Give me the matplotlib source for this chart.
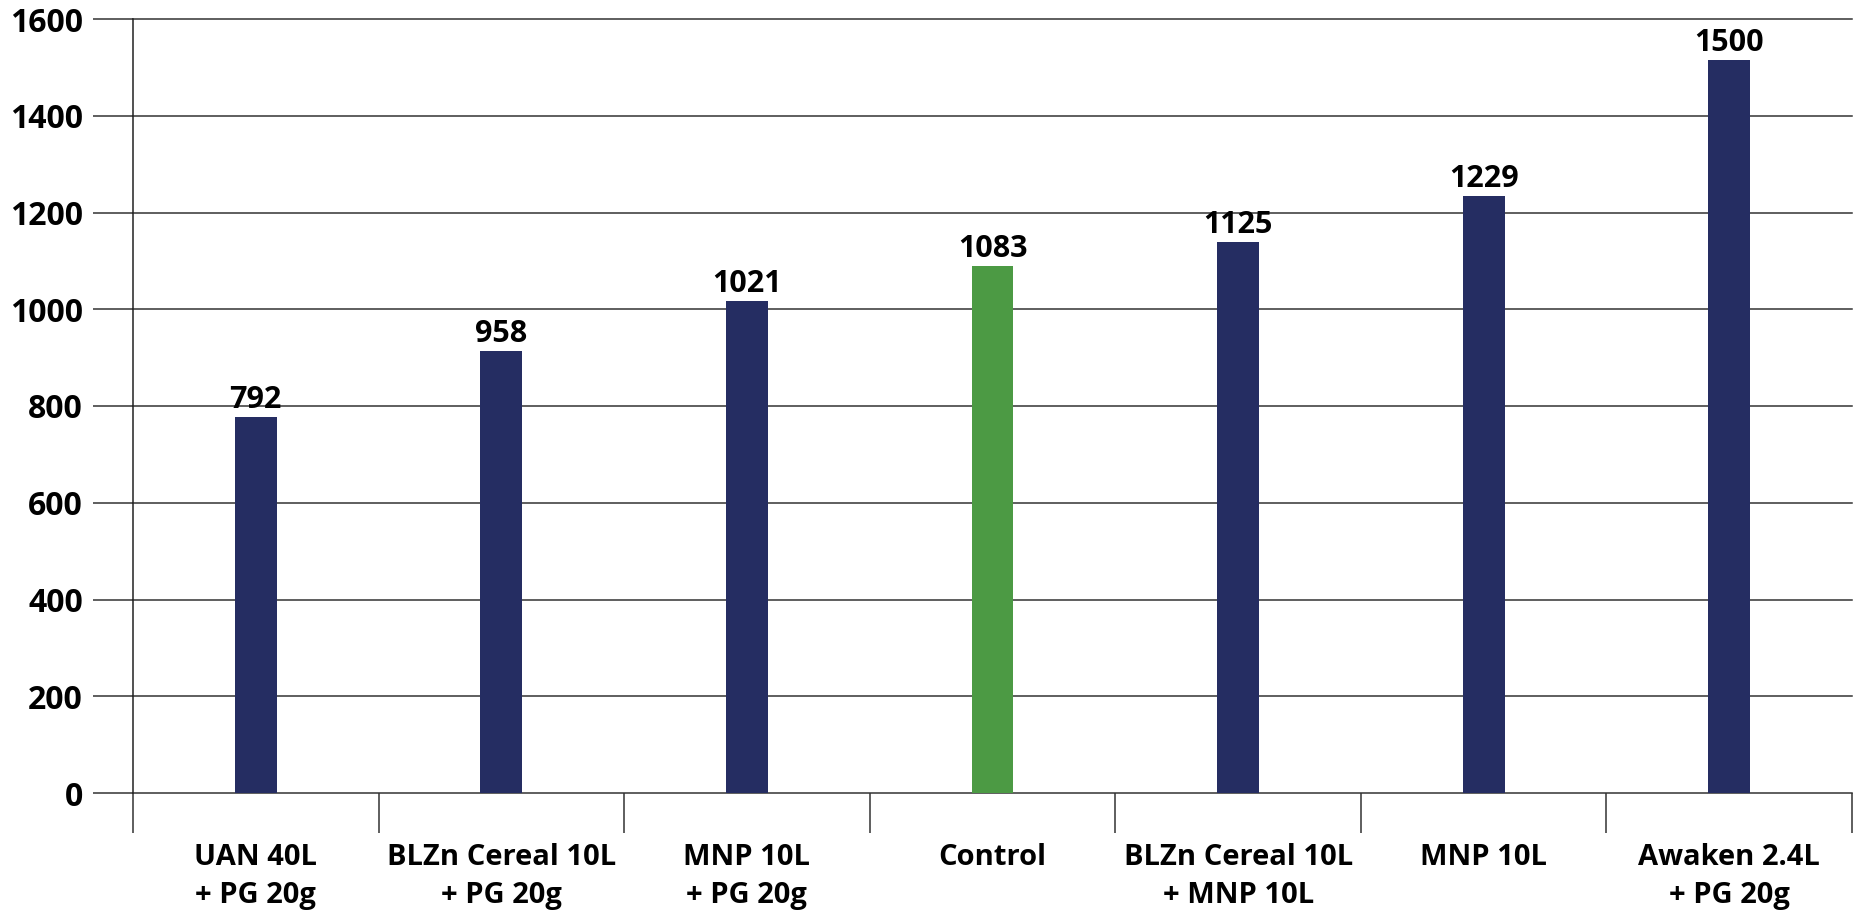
import matplotlib
matplotlib.use("Agg")
import matplotlib.pyplot as plt
import numpy as np

categories = ["UAN 40L\n+ PG 20g", "BLZn Cereal 10L\n+ PG 20g", "MNP 10L\n+ PG 20g",
              "Control", "BLZn Cereal 10L\n+ MNP 10L", "MNP 10L", "Awaken 2.4L\n+ PG 20g"]
bar_heights = [778, 914, 1018, 1089, 1138, 1234, 1515]
value_labels = ["792", "958", "1021", "1083", "1125", "1229", "1500"]
y_ticks = [0, 200, 400, 600, 800, 1000, 1200, 1400, 1600]

navy = "#252D62"
green = "#4C9A44"
colors = [navy, navy, navy, green, navy, navy, navy]

plt.rcParams['font.family'] = ['Open Sans', 'DejaVu Sans']
plt.rcParams['font.weight'] = 'bold'

fig = plt.figure(figsize=(18.54, 9.10), dpi=100)
ax = fig.add_axes([133/1854, 1-793/910, 1719/1854, (793-19)/910])

x = np.arange(len(categories))
ax.bar(x, bar_heights, width=0.171, color=colors, zorder=3)

for xi, h, lab in zip(x, bar_heights, value_labels):
    ax.annotate(lab, (xi, h), xytext=(0, 6.5), textcoords="offset points",
                ha="center", va="baseline", fontsize=22, fontweight="bold", color="black")

ax.set_xlim(-0.5, len(categories) - 0.5)
ax.set_ylim(0, 1600)
ax.set_yticks(y_ticks)
ax.set_yticklabels([str(v) for v in y_ticks], fontsize=23, fontweight="bold")
ax.yaxis.grid(True, color="#333333", linewidth=1.1, zorder=0)
for gl in ax.get_ygridlines():
    gl.set_clip_on(False)
ax.tick_params(axis="y", length=29, width=1.1, color="#333333", pad=7)

ax.set_xticks(x)
ax.set_xticklabels(categories, fontsize=21, fontweight="bold", linespacing=1.4)
ax.tick_params(axis="x", which="major", length=0, pad=36)
ax.set_xticks(np.arange(-0.5, len(categories)), minor=True)
ax.tick_params(axis="x", which="minor", length=29, width=1.1, color="#333333")

for s in ["top", "right", "bottom"]:
    ax.spines[s].set_visible(False)
ax.spines["left"].set_color("#222222")
ax.spines["left"].set_linewidth(1.1)

fig.savefig("out.png", dpi=100)
